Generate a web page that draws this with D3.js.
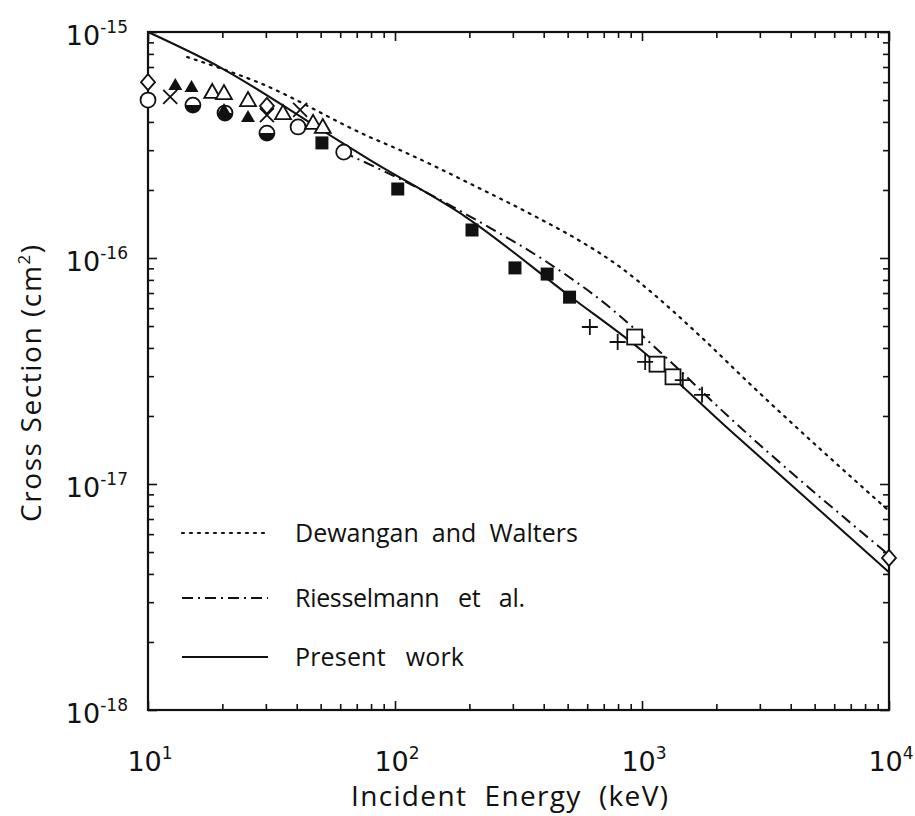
<!DOCTYPE html>
<html>
<head>
<meta charset="utf-8">
<script src="https://cdn.jsdelivr.net/npm/d3@7"></script>
<style>
  body { margin: 0; background: #fff; }
  text { font-family: "Open Sans", "Noto Sans", sans-serif; fill: #111; }
  text.tick-label { font-family: "DejaVu Sans", sans-serif; }
</style>
</head>
<body>
<div id="chart"></div>
<script>
// axis decades
const xDecades = [1, 2, 3, 4];
const yDecades = [-15, -16, -17, -18];

// curves: energy (keV) and cross section (cm^2)
const presentE = [10, 19.5, 49, 79, 195, 512, 1000, 2270, 10000];
const presentS = [1.0e-15, 7.0e-16, 3.76e-16, 2.72e-16, 1.51e-16, 6.76e-17, 3.89e-17, 1.73e-17, 4.07e-18];

const dewanganE = [14.4, 28.4, 79, 105, 211, 386, 561, 815, 1150, 1717, 2736, 10000];
const dewanganS = [7.75e-16, 5.94e-16, 3.43e-16, 3.0e-16, 2.08e-16, 1.49e-16, 1.19e-16, 9.12e-17, 6.72e-17, 4.52e-17, 2.77e-17, 7.6e-18];

const riesselE = [61.6, 126, 221, 412, 721, 1183, 2271, 10000];
const riesselS = [2.94e-16, 2.02e-16, 1.44e-16, 9.6e-17, 6.19e-17, 3.84e-17, 1.96e-17, 4.85e-18];

// experimental points
const diamondE = [10, 30.3, 10000];
const diamondS = [6.0e-16, 4.71e-16, 4.71e-18];
const circleE = [10, 40.5, 62];
const circleS = [5.0e-16, 3.8e-16, 2.94e-16];
const halfCircleE = [15.2, 20.5, 30.3];
const halfCircleS = [4.75e-16, 4.38e-16, 3.57e-16];
const triOpenE = [18.2, 20.3, 25.4, 35.2, 46.6, 51];
const triOpenS = [5.43e-16, 5.37e-16, 5.0e-16, 4.38e-16, 3.96e-16, 3.8e-16];
const triFilledE = [12.9, 15.0, 20.3, 25.4];
const triFilledS = [5.83e-16, 5.71e-16, 4.52e-16, 4.21e-16];
const xCrossE = [12.3, 30.3, 41.3];
const xCrossS = [5.16e-16, 4.29e-16, 4.52e-16];
const sqFilledE = [50.6, 102.6, 205, 306, 413, 509];
const sqFilledS = [3.23e-16, 2.02e-16, 1.33e-16, 9.04e-17, 8.49e-17, 6.71e-17];
const sqOpenE = [934, 1150, 1335];
const sqOpenS = [4.47e-17, 3.39e-17, 2.98e-17];
const plusE = [615, 797, 1030, 1463, 1750];
const plusS = [4.95e-17, 4.25e-17, 3.47e-17, 2.88e-17, 2.48e-17];

const legendNames = ["Dewangan  and  Walters", "Riesselmann   et   al.", "Present   work"];

const W = 915, H = 816;
const margin = { left: 148, right: 889, top: 32, bottom: 710 };

const svg = d3.select("#chart").append("svg")
  .attr("width", W).attr("height", H);

const x = d3.scaleLog().domain([10, 1e4]).range([margin.left, margin.right]);
const y = d3.scaleLog().domain([1e-18, 1e-15]).range([margin.bottom, margin.top]);

const zip = (a, b) => a.map((v, i) => [v, b[i]]);

// tick values
const xMajor = xDecades.map((p) => Math.pow(10, p));
const xMinor = [];
xDecades.slice(0, -1).forEach((p) => {
  for (let k = 2; k <= 9; k++) xMinor.push(k * Math.pow(10, p));
});
const yMajor = yDecades.map((p) => Math.pow(10, p));
const yMinor = [];
yDecades.slice(1).forEach((p) => {
  for (let k = 2; k <= 9; k++) yMinor.push(k * Math.pow(10, p));
});

function tickAxis(axisFn, scale, values, size, transform) {
  svg.append("g")
    .attr("transform", transform)
    .call(axisFn(scale).tickValues(values).tickSize(size).tickFormat(""))
    .call((g) => g.select(".domain").remove())
    .selectAll("line").attr("stroke", "#111").attr("stroke-width", 1.6);
}

// inward ticks on all four sides
tickAxis(d3.axisBottom, x, xMajor, -9, `translate(0,${margin.bottom})`);
tickAxis(d3.axisBottom, x, xMinor, -6, `translate(0,${margin.bottom})`);
tickAxis(d3.axisTop, x, xMajor, -9, `translate(0,${margin.top})`);
tickAxis(d3.axisTop, x, xMinor, -6, `translate(0,${margin.top})`);
tickAxis(d3.axisLeft, y, yMajor, -9, `translate(${margin.left},0)`);
tickAxis(d3.axisLeft, y, yMinor, -6, `translate(${margin.left},0)`);
tickAxis(d3.axisRight, y, yMajor, -9, `translate(${margin.right},0)`);
tickAxis(d3.axisRight, y, yMinor, -6, `translate(${margin.right},0)`);

// frame
svg.append("rect")
  .attr("x", margin.left).attr("y", margin.top)
  .attr("width", margin.right - margin.left).attr("height", margin.bottom - margin.top)
  .attr("fill", "none").attr("stroke", "#111").attr("stroke-width", 2.2);

// tick labels
xDecades.forEach((p) => {
  const t = svg.append("text")
    .attr("class", "tick-label")
    .attr("x", x(Math.pow(10, p)) + 2)
    .attr("y", margin.bottom + 61)
    .attr("text-anchor", "middle")
    .attr("font-size", "27px");
  t.append("tspan").text("10");
  t.append("tspan").attr("dy", -12).attr("font-size", "17px").text(p);
});
yDecades.forEach((p) => {
  const t = svg.append("text")
    .attr("class", "tick-label")
    .attr("x", margin.left - 20)
    .attr("y", y(Math.pow(10, p)) + 13)
    .attr("text-anchor", "end")
    .attr("font-size", "27px");
  t.append("tspan").text("10");
  t.append("tspan").attr("dy", -12).attr("font-size", "17px").text(p);
});

// axis titles
svg.append("text")
  .attr("x", 351)
  .attr("y", 806)
  .attr("font-size", "28px")
  .attr("xml:space", "preserve")
  .attr("textLength", 317)
  .attr("lengthAdjust", "spacing")
  .text("Incident  Energy  (keV)");

const yt = svg.append("text")
  .attr("transform", "translate(41,522) rotate(-90)")
  .attr("font-size", "28px")
  .attr("xml:space", "preserve")
  .attr("textLength", 277)
  .attr("lengthAdjust", "spacing");
yt.append("tspan").text("Cross Section (cm");
yt.append("tspan").attr("dy", -11).attr("font-size", "17px").text("2");
yt.append("tspan").attr("dy", 11).text(")");

// curves
const line = d3.line()
  .x((d) => x(d[0]))
  .y((d) => y(d[1]))
  .curve(d3.curveMonotoneX);

const curves = [
  { data: zip(dewanganE, dewanganS), dash: "2,6", cap: "round", width: 2.2 },
  { data: zip(riesselE, riesselS), dash: "11,5,2,5", cap: "butt", width: 2 },
  { data: zip(presentE, presentS), dash: null, cap: "butt", width: 2 }
];

curves.forEach((c) => {
  svg.append("path")
    .datum(c.data)
    .attr("d", line)
    .attr("fill", "none")
    .attr("stroke", "#111")
    .attr("stroke-width", c.width)
    .attr("stroke-linecap", c.cap)
    .attr("stroke-dasharray", c.dash);
});

// markers
function markers(E, S, draw) {
  const g = svg.append("g");
  g.selectAll("g")
    .data(zip(E, S))
    .join("g")
    .attr("transform", (d) => `translate(${x(d[0])},${y(d[1])})`)
    .each(function () { draw(d3.select(this)); });
}

const stroke = (s) => s.attr("stroke", "#111").attr("stroke-width", 1.8);

markers(circleE, circleS, (g) => stroke(g.append("circle").attr("r", 7.5).attr("fill", "#fff")));
markers(halfCircleE, halfCircleS, (g) => {
  stroke(g.append("circle").attr("r", 7.5).attr("fill", "#fff"));
  g.append("path").attr("d", d3.arc()({ innerRadius: 0, outerRadius: 7.5, startAngle: Math.PI / 2, endAngle: Math.PI * 1.5 }))
    .attr("fill", "#111");
});
markers(diamondE, diamondS, (g) => stroke(g.append("path").attr("d", "M0,-8L7,0L0,8L-7,0Z").attr("fill", "#fff")));
markers(triOpenE, triOpenS, (g) => stroke(g.append("path").attr("d", "M0,-8L8,6L-8,6Z").attr("fill", "#fff")));
markers(triFilledE, triFilledS, (g) => g.append("path").attr("d", "M0,-7L7,5L-7,5Z").attr("fill", "#111"));
markers(xCrossE, xCrossS, (g) => stroke(g.append("path").attr("d", "M-7,-7L7,7M7,-7L-7,7").attr("fill", "none")));
markers(sqFilledE, sqFilledS, (g) => g.append("rect").attr("x", -6.5).attr("y", -6.5).attr("width", 13).attr("height", 13).attr("fill", "#111"));
markers(sqOpenE, sqOpenS, (g) => stroke(g.append("rect").attr("x", -7.5).attr("y", -7.5).attr("width", 15).attr("height", 15).attr("fill", "#fff")));
markers(plusE, plusS, (g) => stroke(g.append("path").attr("d", "M-8,0L8,0M0,-8L0,8").attr("fill", "none")));

// legend
const legendLengths = [283, 230, 169];
const legend = svg.append("g");
legendNames.forEach((name, i) => {
  const ly = [533, 598, 657][i];
  legend.append("line")
    .attr("x1", 182).attr("x2", 268)
    .attr("y1", ly).attr("y2", ly)
    .attr("stroke", "#111")
    .attr("stroke-width", curves[i].width)
    .attr("stroke-linecap", curves[i].cap)
    .attr("stroke-dasharray", curves[i].dash);
  legend.append("text")
    .attr("x", 295).attr("y", ly + 9)
    .attr("font-size", "25px")
    .attr("xml:space", "preserve")
    .attr("textLength", legendLengths[i])
    .attr("lengthAdjust", "spacing")
    .text(name);
});
</script>
</body>
</html>
